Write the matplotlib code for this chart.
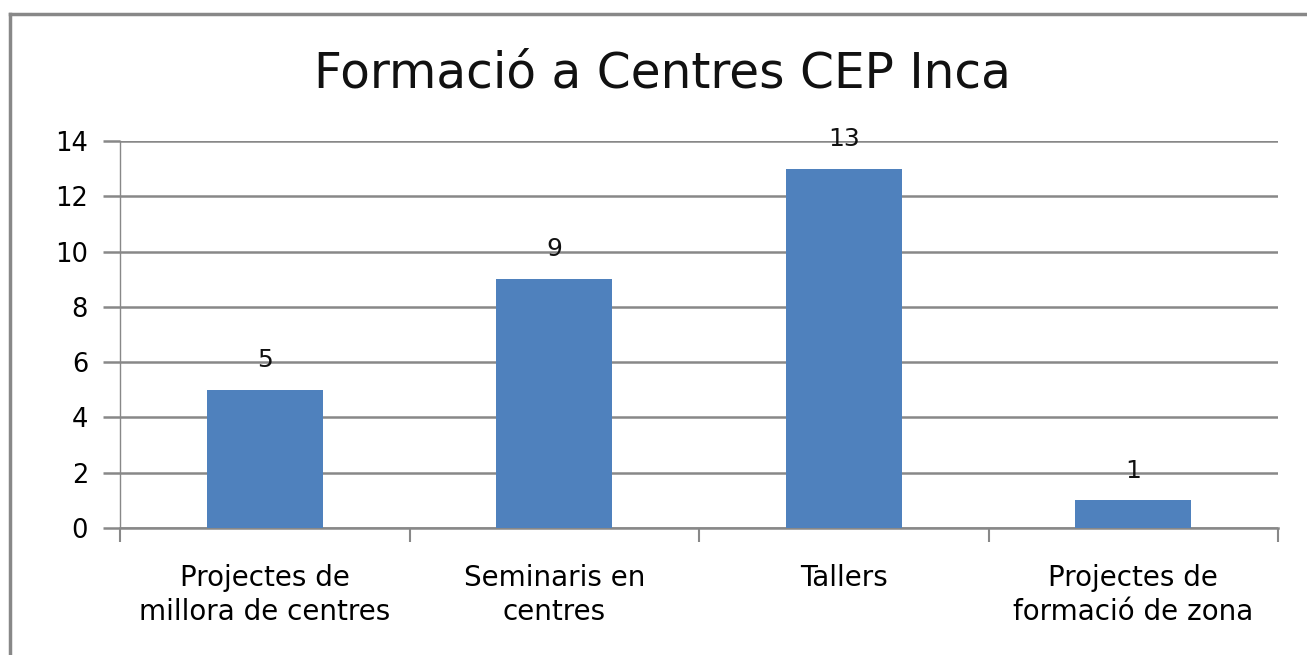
import matplotlib
matplotlib.use("Agg")
import matplotlib.pyplot as plt
from matplotlib.lines import Line2D
import numpy as np

title = "Formació a Centres CEP Inca"
categories = ["Projectes de\nmillora de centres", "Seminaris en\ncentres", "Tallers",
              "Projectes de\nformació de zona"]
values = [5, 9, 13, 1]
yticks = [0, 2, 4, 6, 8, 10, 12, 14]

plt.rcParams['font.family'] = ['DejaVu Sans']

fig = plt.figure(figsize=(13.07, 6.55), dpi=100)
W, H = 1307, 655

# outer frame (only left and top edges visible in the picture)
fig.add_artist(Line2D([10/W, 10/W], [0, 1 - 14/H], color="#888888", lw=2.5, transform=fig.transFigure))
fig.add_artist(Line2D([10/W, 1], [1 - 14/H, 1 - 14/H], color="#888888", lw=2.5, transform=fig.transFigure))

ax = fig.add_axes([120/W, 1 - 528/H, (1278 - 120)/W, (528 - 141)/H])
x = np.arange(len(categories))
ax.bar(x, values, width=0.4, color="#4F81BD", zorder=3)
for xi, v in zip(x, values):
    ax.text(xi, v + 1.08, str(v), ha="center", va="center", fontsize=18, color="#111111", zorder=4)

ax.set_xlim(-0.5, len(categories) - 0.5)
ax.set_ylim(0, 14)
ax.set_yticks(yticks)
ax.set_yticklabels([str(t) for t in yticks], fontsize=18.5)
ax.yaxis.grid(True, color="#888888", lw=1.8, zorder=0)
ax.tick_params(axis="y", length=12, width=1.8, color="#888888", pad=11)

ax.set_xticks(x)
ax.set_xticklabels(categories, fontsize=20, linespacing=1.25)
ax.set_xticks(np.arange(-0.5, len(categories)), minor=True)
ax.tick_params(axis="x", which="major", length=0, pad=26)
ax.tick_params(axis="x", which="minor", length=10, width=1.5, color="#888888")

for s in ["top", "right"]:
    ax.spines[s].set_visible(False)
ax.spines["left"].set_color("#888888")
ax.spines["left"].set_linewidth(1)
ax.spines["bottom"].set_color("#888888")
ax.spines["bottom"].set_linewidth(1.8)

fig.text(662/W, 1 - 74/H, title, ha="center", va="center", fontsize=35, color="#111111")

fig.savefig("out.png", dpi=100)
